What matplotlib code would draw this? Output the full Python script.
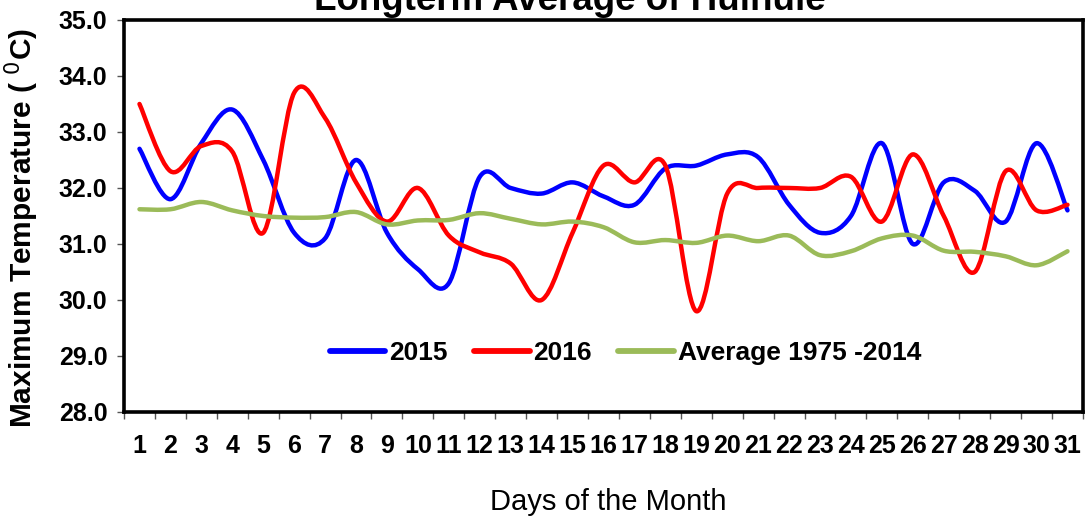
import matplotlib
matplotlib.use("Agg")
import matplotlib.pyplot as plt
import numpy as np
from matplotlib.path import Path
from matplotlib.patches import PathPatch
from matplotlib.lines import Line2D

plt.rcParams['font.family'] = ['Liberation Sans', 'DejaVu Sans']

days = list(range(1, 32))
t2015 = [32.7, 31.8, 32.8, 33.4, 32.5, 31.2, 31.1, 32.5, 31.2, 30.55, 30.3,
         32.2, 32.0, 31.9, 32.1, 31.85, 31.7, 32.35, 32.4, 32.6, 32.55, 31.7,
         31.2, 31.5, 32.8, 31.0, 32.1, 31.95, 31.4, 32.8, 31.6]
t2016 = [33.5, 32.3, 32.75, 32.65, 31.2, 33.7, 33.25, 32.1, 31.4, 32.0, 31.15,
         30.85, 30.65, 30.0, 31.2, 32.4, 32.1, 32.4, 29.8, 31.9, 32.0, 32.0,
         32.0, 32.2, 31.4, 32.6, 31.5, 30.5, 32.3, 31.6, 31.7]
avg = [31.62, 31.62, 31.75, 31.6, 31.5, 31.47, 31.48, 31.57, 31.35, 31.42,
       31.43, 31.55, 31.45, 31.35, 31.4, 31.3, 31.03, 31.07, 31.02, 31.15,
       31.05, 31.15, 30.8, 30.87, 31.1, 31.15, 30.88, 30.86, 30.78, 30.62,
       30.87]

labels = ['2015', '2016', 'Average 1975 -2014']
colors = ['#0000FF', '#FF0000', '#9BBB59']


# smooth line like excel: cubic bezier segments through the points
def smooth_path(x, y):
    p = np.column_stack([x, y]).astype(float)
    n = len(p)
    verts = [p[0]]
    codes = [Path.MOVETO]
    for i in range(n - 1):
        p0 = p[i - 1] if i > 0 else p[i]
        p3 = p[i + 2] if i + 2 < n else p[i + 1]
        c1 = p[i] + (p[i + 1] - p0) / 6
        c2 = p[i + 1] - (p3 - p[i]) / 6
        verts += [c1, c2, p[i + 1]]
        codes += [Path.CURVE4] * 3
    return Path(verts, codes)


fig = plt.figure(figsize=(10.86, 5.19), dpi=100)
ax = fig.add_axes([0.1142, 0.2062, 0.8830, 0.7553])

for series, c in zip([t2015, t2016, avg], colors):
    ax.add_patch(PathPatch(smooth_path(days, series), fill=False,
                           edgecolor=c, lw=3.2, capstyle='round',
                           joinstyle='round'))

ax.set_xlim(0.5, 31.5)
ax.set_ylim(28, 35)
ax.set_yticks(np.arange(28, 35.1, 1))
ax.set_yticklabels(['%.1f' % v for v in np.arange(28, 35.1, 1)],
                   fontsize=18, fontweight='bold')
ax.set_xticks(days)
ax.set_xticklabels([str(d) for d in days], fontsize=18, fontweight='bold')
ax.set_xticks(np.arange(0.5, 31.6, 1), minor=True)
ax.tick_params(axis='x', which='major', length=0, pad=16)
ax.tick_params(axis='x', which='minor', length=5, width=1, color='#555555')
ax.tick_params(axis='y', length=5, width=1, color='#555555', pad=7)

for s in ax.spines.values():
    s.set_linewidth(2.6)
    s.set_color('black')

ax.set_ylabel('Maximum Temperature ( $^{0}$C)', fontsize=21.5,
              fontweight='bold')
ax.yaxis.set_label_coords(-0.087, 0.47)
fig.text(0.56, 0.033, 'Days of the Month', fontsize=21,
         ha='center', va='center')
fig.text(0.525, (519 - 10) / 519, 'Longterm Average of Hulhule',
         fontsize=26.5, fontweight='bold', ha='center', va='baseline')

handles = [Line2D([], [], color=c, lw=4.2, solid_capstyle='round')
           for c in colors]
leg = ax.legend(handles, labels, loc='center', bbox_to_anchor=(0.523, 0.15),
                ncol=3, frameon=False, handlelength=2.1, handletextpad=0.15,
                columnspacing=1.0, prop={'size': 19, 'weight': 'bold'})

fig.savefig('out.png', dpi=100)
